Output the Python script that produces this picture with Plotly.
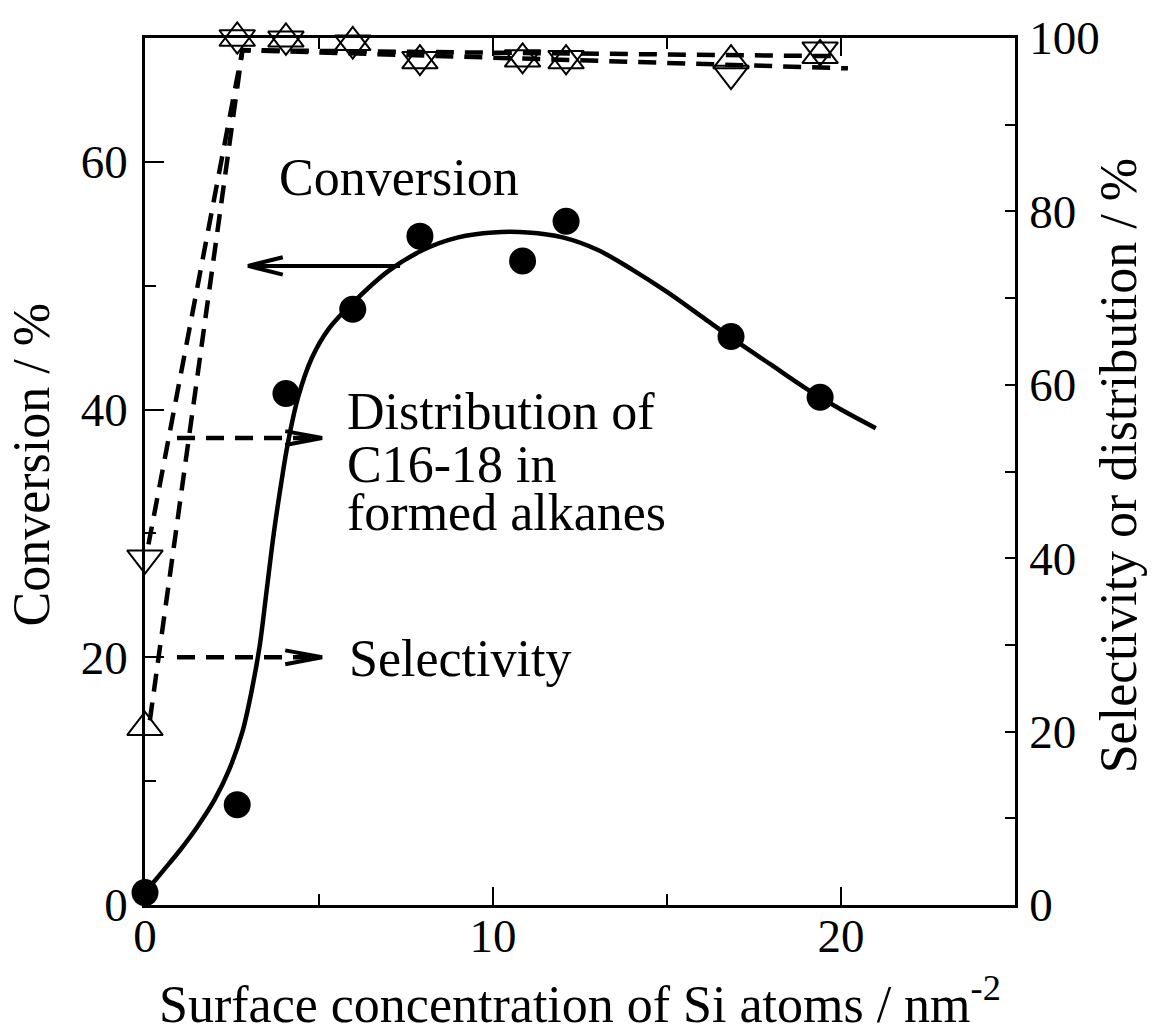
import plotly.graph_objects as go

# Surface concentration of Si on the catalysts (nm^-2)
si_conc = [0, 2.65, 4.05, 5.97, 7.9, 10.85, 12.1, 16.84, 19.4]
# Conversion (%) - left axis
conversion = [1.0, 8.1, 41.3, 48.1, 54.0, 52.0, 55.2, 45.9, 41.0]
# Selectivity and C16-18 distribution (%) - right axis
selectivity = [20.5, 100.0, 99.9, 99.5, 97.4, 97.6, 97.4, 97.4, 98.0]
distribution = [40.0, 100.0, 99.85, 99.4, 97.5, 97.7, 97.6, 95.9, 98.6]

# Smooth guide curve drawn through the conversion data
conv_curve_x = [0, 0.5, 1.0, 1.5, 2.0, 2.4, 2.8, 3.1, 3.3, 3.5, 3.7, 3.9, 4.1, 4.4,
                4.8, 5.3, 6.0, 7.0, 8.0, 9.0, 10.0, 11.0, 12.0, 13.0, 14.0, 15.0,
                16.0, 17.0, 18.0, 19.0, 20.0, 21.0]
conv_curve_y = [1.0, 2.7, 4.4, 6.3, 8.5, 10.8, 14.0, 17.8, 21.0, 25.5, 30.0, 33.8,
                37.2, 41.0, 44.2, 46.6, 48.7, 51.2, 52.9, 53.9, 54.3, 54.3, 53.9,
                52.9, 51.3, 49.5, 47.5, 45.5, 43.6, 41.7, 40.0, 38.5]

# Dashed guide lines for selectivity and distribution
sel_line_x = [0.14, 2.8, 20.0]
sel_line_y = [21.3, 98.6, 97.9]
dist_line_x = [0.1, 2.8, 20.2]
dist_line_y = [41.6, 98.6, 96.5]

FONT = "Liberation Serif"
DASH = "18px,11px"

fig = go.Figure()

fig.add_trace(go.Scatter(x=conv_curve_x, y=conv_curve_y, mode="lines",
                         line=dict(color="black", width=4.5, shape="spline"),
                         yaxis="y", hoverinfo="skip"))
fig.add_trace(go.Scatter(x=si_conc, y=conversion, mode="markers",
                         marker=dict(symbol="circle", size=27, color="black"),
                         cliponaxis=False, yaxis="y", name="Conversion"))

fig.add_trace(go.Scatter(x=sel_line_x, y=sel_line_y, mode="lines",
                         line=dict(color="black", width=4.5, dash=DASH),
                         yaxis="y2", hoverinfo="skip"))
fig.add_trace(go.Scatter(x=dist_line_x, y=dist_line_y, mode="lines",
                         line=dict(color="black", width=4.5, dash=DASH),
                         yaxis="y2", hoverinfo="skip"))
fig.add_trace(go.Scatter(x=si_conc, y=selectivity, mode="markers",
                         marker=dict(symbol="triangle-up-open", size=31, color="black",
                                     line=dict(width=2, color="black")),
                         cliponaxis=False, yaxis="y2", name="Selectivity"))
fig.add_trace(go.Scatter(x=si_conc, y=distribution, mode="markers",
                         marker=dict(symbol="triangle-down-open", size=31, color="black",
                                     line=dict(width=2, color="black")),
                         cliponaxis=False, yaxis="y2", name="Distribution"))

axis_common = dict(showline=True, linecolor="black", linewidth=2.5, showgrid=False,
                   zeroline=False, ticks="inside", tickcolor="black", tickwidth=2,
                   tickfont=dict(family=FONT, size=47, color="black"))

fig.update_layout(
    width=1163, height=1030,
    margin=dict(l=145, r=148, t=35, b=125),
    plot_bgcolor="white", paper_bgcolor="white",
    showlegend=False,
    font=dict(family=FONT, size=47, color="black"),
    xaxis=dict(range=[0, 25], tickvals=[0, 10, 20], ticklen=18, mirror="ticks",
               ticklabelstandoff=-12,
               minor=dict(tickvals=[5, 15], ticks="inside", ticklen=11,
                          tickwidth=2, tickcolor="black"),
               **axis_common),
    yaxis=dict(range=[0, 70], tickvals=[0, 20, 40, 60], ticklen=19,
               ticklabelstandoff=5,
               minor=dict(tickvals=[10, 30, 50], ticks="inside", ticklen=11,
                          tickwidth=2, tickcolor="black"),
               **axis_common),
    yaxis2=dict(range=[0, 100], tickvals=[0, 20, 40, 60, 80, 100], ticklen=10,
                overlaying="y", side="right", ticklabelstandoff=2,
                minor=dict(tickvals=[10, 30, 50, 70, 90], ticks="inside", ticklen=10,
                           tickwidth=2, tickcolor="black"),
                **axis_common),
)

# Arrows pointing each curve to its axis
shapes = []
# solid arrow to the left axis (conversion)
shapes.append(dict(type="line", xref="x", yref="y", x0=7.33, y0=51.6, x1=3.0, y1=51.6,
                   line=dict(color="black", width=4)))
shapes.append(dict(type="path", xref="x", yref="y",
                   path="M 3.96,52.3 L 2.96,51.6 L 3.96,50.9",
                   line=dict(color="black", width=4)))
# dashed arrows to the right axis
for yv in (37.7, 20.0):
    shapes.append(dict(type="line", xref="x", yref="y", x0=0.92, y0=yv, x1=5.0, y1=yv,
                       line=dict(color="black", width=4.5, dash=DASH)))
    shapes.append(dict(type="path", xref="x", yref="y",
                       path=f"M 4.03,{yv + 0.56} L 5.09,{yv} L 4.03,{yv - 0.56}",
                       line=dict(color="black", width=4)))
fig.update_layout(shapes=shapes)

annots = []
def txt(x, y, s, **kw):
    d = dict(x=x, y=y, xref="x", yref="y", text=s, showarrow=False,
             xanchor="left", yanchor="middle",
             font=dict(family=FONT, size=52, color="black"))
    d.update(kw)
    annots.append(d)

txt(3.79, 58.7, "Conversion")
txt(5.75, 39.84, "Distribution of")
txt(5.75, 35.56, "C16-18 in")
txt(5.75, 31.69, "formed alkanes")
txt(5.80, 19.92, "Selectivity")

# axis titles
annots.append(dict(x=0.5, y=-0.110, xref="paper", yref="paper", showarrow=False,
                   xanchor="center", yanchor="middle",
                   text="Surface concentration of Si atoms / nm<sup>-2</sup>",
                   font=dict(family=FONT, size=52, color="black")))
annots.append(dict(x=-0.1299, y=0.508, xref="paper", yref="paper", showarrow=False,
                   xanchor="center", yanchor="middle", textangle=-90,
                   text="Conversion / %",
                   font=dict(family=FONT, size=52, color="black")))
annots.append(dict(x=1.1184, y=0.506, xref="paper", yref="paper", showarrow=False,
                   xanchor="center", yanchor="middle", textangle=-90,
                   text="Selectivity or distribution / %",
                   font=dict(family=FONT, size=52, color="black")))
fig.update_layout(annotations=annots)

fig.write_html("out.html")
